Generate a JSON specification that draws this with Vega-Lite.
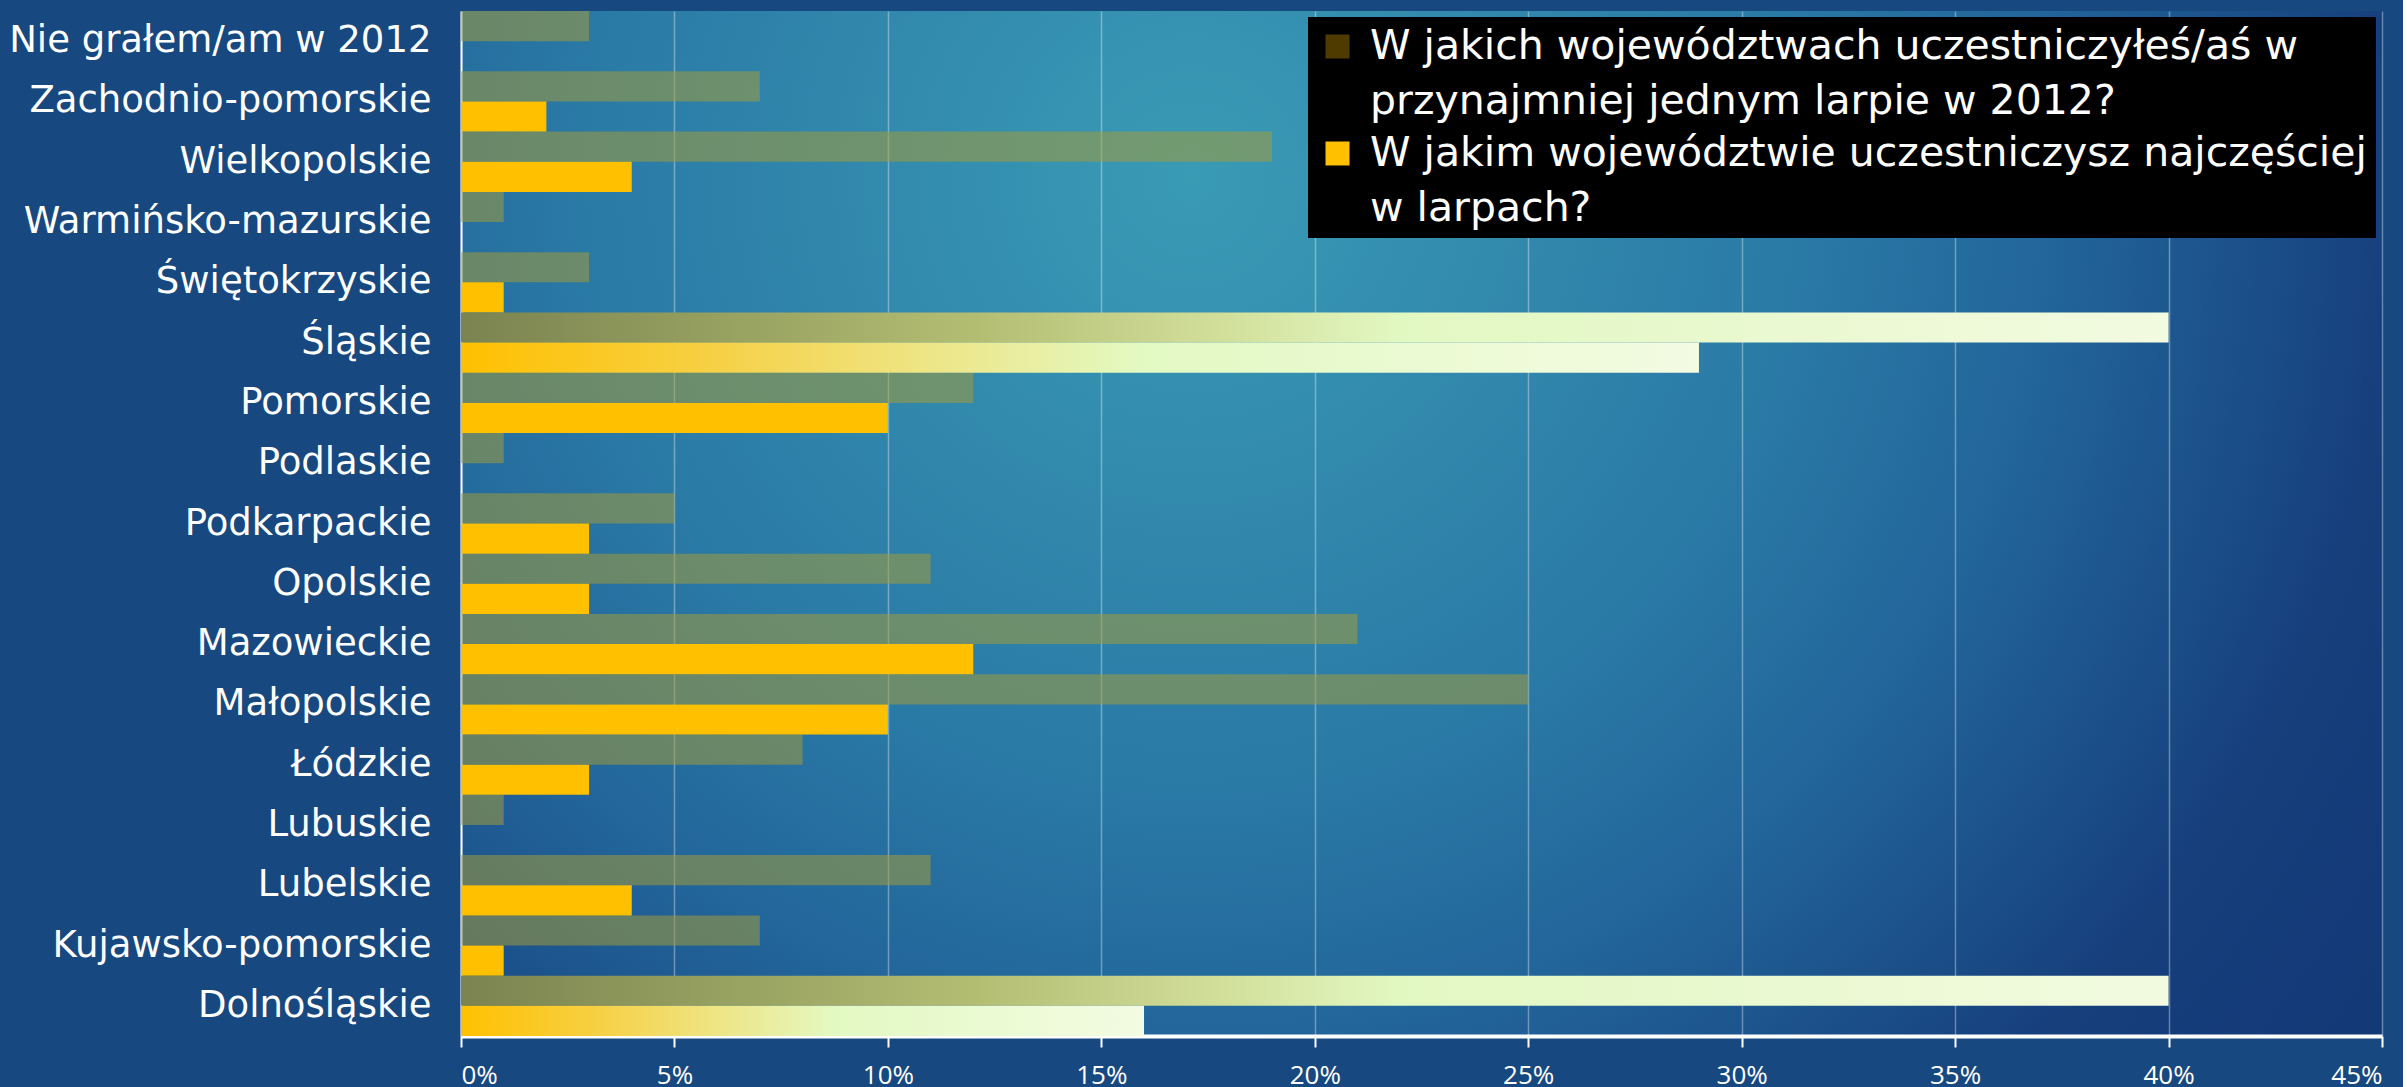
{
  "$schema": "https://vega.github.io/schema/vega-lite/v6.json",
  "width": 1921,
  "height": 1025,
  "padding": {"left": 8, "top": 11, "right": 20, "bottom": 5},
  "background": "#174880",
  "config": {
    "font": "DejaVu Sans",
    "view": {
      "stroke": null,
      "fill": {
        "gradient": "radial",
        "x1": 0.38, "y1": 0.32, "r1": 0,
        "x2": 0.38, "y2": 0.32, "r2": 0.9,
        "stops": [
          {"offset": 0, "color": "#3a9bb5"},
          {"offset": 0.35, "color": "#2a7aa6"},
          {"offset": 0.5, "color": "#22659a"},
          {"offset": 0.7, "color": "#163f7c"},
          {"offset": 1, "color": "#0f3270"}
        ]
      }
    },
    "style": {"guide-label": {"lineHeight": 55}},
    "scale": {"bandPaddingInner": 0, "bandPaddingOuter": 0},
    "legend": {
      "orient": "top-right",
      "offset": 6,
      "fillColor": "black",
      "padding": 9,
      "labelFontSize": 41,
      "labelColor": "white",
      "labelFont": "DejaVu Sans",
      "symbolType": "square",
      "symbolSize": 576,
      "symbolStrokeWidth": 0,
      "symbolOpacity": 1,
      "labelOffset": 12,
      "rowPadding": 10,
      "labelLimit": 1300
    }
  },
  "datasets": {
    "rows": [
      {"region": "Nie grałem/am w 2012", "series": "W jakich województwach uczestniczyłeś/aś w przynajmniej jednym larpie w 2012?", "value": 3},
      {"region": "Zachodnio-pomorskie", "series": "W jakich województwach uczestniczyłeś/aś w przynajmniej jednym larpie w 2012?", "value": 7},
      {"region": "Wielkopolskie", "series": "W jakich województwach uczestniczyłeś/aś w przynajmniej jednym larpie w 2012?", "value": 19},
      {"region": "Warmińsko-mazurskie", "series": "W jakich województwach uczestniczyłeś/aś w przynajmniej jednym larpie w 2012?", "value": 1},
      {"region": "Świętokrzyskie", "series": "W jakich województwach uczestniczyłeś/aś w przynajmniej jednym larpie w 2012?", "value": 3},
      {"region": "Śląskie", "series": "W jakich województwach uczestniczyłeś/aś w przynajmniej jednym larpie w 2012?", "value": 40},
      {"region": "Pomorskie", "series": "W jakich województwach uczestniczyłeś/aś w przynajmniej jednym larpie w 2012?", "value": 12},
      {"region": "Podlaskie", "series": "W jakich województwach uczestniczyłeś/aś w przynajmniej jednym larpie w 2012?", "value": 1},
      {"region": "Podkarpackie", "series": "W jakich województwach uczestniczyłeś/aś w przynajmniej jednym larpie w 2012?", "value": 5},
      {"region": "Opolskie", "series": "W jakich województwach uczestniczyłeś/aś w przynajmniej jednym larpie w 2012?", "value": 11},
      {"region": "Mazowieckie", "series": "W jakich województwach uczestniczyłeś/aś w przynajmniej jednym larpie w 2012?", "value": 21},
      {"region": "Małopolskie", "series": "W jakich województwach uczestniczyłeś/aś w przynajmniej jednym larpie w 2012?", "value": 25},
      {"region": "Łódzkie", "series": "W jakich województwach uczestniczyłeś/aś w przynajmniej jednym larpie w 2012?", "value": 8},
      {"region": "Lubuskie", "series": "W jakich województwach uczestniczyłeś/aś w przynajmniej jednym larpie w 2012?", "value": 1},
      {"region": "Lubelskie", "series": "W jakich województwach uczestniczyłeś/aś w przynajmniej jednym larpie w 2012?", "value": 11},
      {"region": "Kujawsko-pomorskie", "series": "W jakich województwach uczestniczyłeś/aś w przynajmniej jednym larpie w 2012?", "value": 7},
      {"region": "Dolnośląskie", "series": "W jakich województwach uczestniczyłeś/aś w przynajmniej jednym larpie w 2012?", "value": 40},
      {"region": "Nie grałem/am w 2012", "series": "W jakim województwie uczestniczysz najczęściej w larpach?", "value": 0},
      {"region": "Zachodnio-pomorskie", "series": "W jakim województwie uczestniczysz najczęściej w larpach?", "value": 2},
      {"region": "Wielkopolskie", "series": "W jakim województwie uczestniczysz najczęściej w larpach?", "value": 4},
      {"region": "Warmińsko-mazurskie", "series": "W jakim województwie uczestniczysz najczęściej w larpach?", "value": 0},
      {"region": "Świętokrzyskie", "series": "W jakim województwie uczestniczysz najczęściej w larpach?", "value": 1},
      {"region": "Śląskie", "series": "W jakim województwie uczestniczysz najczęściej w larpach?", "value": 29},
      {"region": "Pomorskie", "series": "W jakim województwie uczestniczysz najczęściej w larpach?", "value": 10},
      {"region": "Podlaskie", "series": "W jakim województwie uczestniczysz najczęściej w larpach?", "value": 0},
      {"region": "Podkarpackie", "series": "W jakim województwie uczestniczysz najczęściej w larpach?", "value": 3},
      {"region": "Opolskie", "series": "W jakim województwie uczestniczysz najczęściej w larpach?", "value": 3},
      {"region": "Mazowieckie", "series": "W jakim województwie uczestniczysz najczęściej w larpach?", "value": 12},
      {"region": "Małopolskie", "series": "W jakim województwie uczestniczysz najczęściej w larpach?", "value": 10},
      {"region": "Łódzkie", "series": "W jakim województwie uczestniczysz najczęściej w larpach?", "value": 3},
      {"region": "Lubuskie", "series": "W jakim województwie uczestniczysz najczęściej w larpach?", "value": 0},
      {"region": "Lubelskie", "series": "W jakim województwie uczestniczysz najczęściej w larpach?", "value": 4},
      {"region": "Kujawsko-pomorskie", "series": "W jakim województwie uczestniczysz najczęściej w larpach?", "value": 1},
      {"region": "Dolnośląskie", "series": "W jakim województwie uczestniczysz najczęściej w larpach?", "value": 16}
    ]
  },
  "data": {"name": "rows"},
  "encoding": {
    "y": {
      "field": "region",
      "type": "nominal",
      "sort": ["Nie grałem/am w 2012", "Zachodnio-pomorskie", "Wielkopolskie", "Warmińsko-mazurskie", "Świętokrzyskie", "Śląskie", "Pomorskie", "Podlaskie", "Podkarpackie", "Opolskie", "Mazowieckie", "Małopolskie", "Łódzkie", "Lubuskie", "Lubelskie", "Kujawsko-pomorskie", "Dolnośląskie"],
      "scale": {"paddingInner": 0, "paddingOuter": 0},
      "axis": {
        "title": null,
        "ticks": false,
        "grid": false,
        "labelColor": "white",
        "labelFontSize": 37,
        "labelFont": "DejaVu Sans",
        "labelPadding": 30,
        "labelLimit": 600,
        "domainColor": "white",
        "domainWidth": 2,
        "minExtent": 446,
        "maxExtent": 446
      }
    },
    "yOffset": {
      "field": "series",
      "type": "nominal",
      "scale": {
        "domain": ["W jakich województwach uczestniczyłeś/aś w przynajmniej jednym larpie w 2012?", "W jakim województwie uczestniczysz najczęściej w larpach?"],
        "paddingInner": 0,
        "paddingOuter": 0
      }
    },
    "x": {
      "field": "value",
      "type": "quantitative",
      "scale": {"domain": [0, 45], "nice": false},
      "axis": {
        "title": null,
        "values": [0, 5, 10, 15, 20, 25, 30, 35, 40, 45],
        "labelExpr": "datum.value + '%'",
        "labelColor": "white",
        "labelFontSize": 26,
        "labelFont": "Open Sans",
        "labelPadding": 15,
        "tickColor": "white",
        "tickSize": 11,
        "tickWidth": 2,
        "domainColor": "white",
        "domainWidth": 4,
        "grid": true,
        "gridColor": "white",
        "gridOpacity": 0.35,
        "gridWidth": 1.5,
        "minExtent": 45,
        "maxExtent": 45
      }
    }
  },
  "layer": [
    {
      "transform": [{"filter": "indexof(['Śląskie', 'Dolnośląskie'], datum.region) < 0"}],
      "mark": {"type": "bar"},
      "encoding": {
        "fill": {
          "field": "series",
          "type": "nominal",
          "condition": {"test": "datum.series == 'W jakich województwach uczestniczyłeś/aś w przynajmniej jednym larpie w 2012?'", "value": "#a39a3a"},
          "scale": {
            "domain": ["W jakich województwach uczestniczyłeś/aś w przynajmniej jednym larpie w 2012?", "W jakim województwie uczestniczysz najczęściej w larpach?"],
            "range": ["#4f3b00", "#ffc000"]
          },
          "legend": {
            "title": null,
            "labelExpr": "datum.label == 'W jakich województwach uczestniczyłeś/aś w przynajmniej jednym larpie w 2012?' ? ['W jakich województwach uczestniczyłeś/aś w', 'przynajmniej jednym larpie w 2012?'] : ['W jakim województwie uczestniczysz najczęściej', 'w larpach?']"
          }
        },
        "fillOpacity": {
          "condition": {"test": "datum.series == 'W jakich województwach uczestniczyłeś/aś w przynajmniej jednym larpie w 2012?'", "value": 0.55},
          "value": 1
        }
      }
    },
    {
      "transform": [
        {"filter": "indexof(['Śląskie', 'Dolnośląskie'], datum.region) >= 0"},
        {"filter": "datum.series == 'W jakich województwach uczestniczyłeś/aś w przynajmniej jednym larpie w 2012?'"}
      ],
      "mark": {
        "type": "bar",
        "color": {
          "gradient": "linear",
          "x1": 0, "y1": 0, "x2": 1, "y2": 0,
          "stops": [
            {"offset": 0, "color": "#7b8350"},
            {"offset": 0.15, "color": "#96a060"},
            {"offset": 0.3, "color": "#b3bd72"},
            {"offset": 0.45, "color": "#d3e09c"},
            {"offset": 0.55, "color": "#e2f8c2"},
            {"offset": 1, "color": "#f2fae0"}
          ]
        }
      }
    },
    {
      "transform": [
        {"filter": "indexof(['Śląskie', 'Dolnośląskie'], datum.region) >= 0"},
        {"filter": "datum.series == 'W jakim województwie uczestniczysz najczęściej w larpach?'"}
      ],
      "mark": {
        "type": "bar",
        "color": {
          "gradient": "linear",
          "x1": 0, "y1": 0, "x2": 1, "y2": 0,
          "stops": [
            {"offset": 0, "color": "#ffc000"},
            {"offset": 0.2, "color": "#f6d044"},
            {"offset": 0.35, "color": "#efe27c"},
            {"offset": 0.55, "color": "#e3f9c3"},
            {"offset": 1, "color": "#f3fbe2"}
          ]
        }
      }
    }
  ]
}
